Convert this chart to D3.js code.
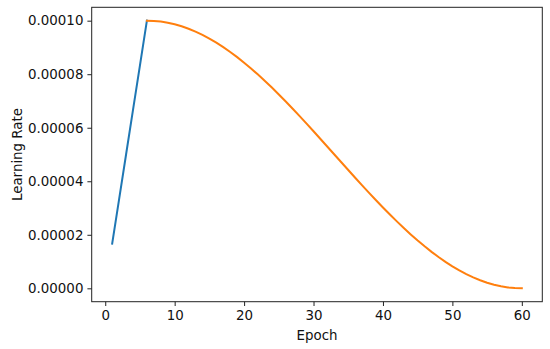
<!DOCTYPE html>
<html>
<head>
<meta charset="utf-8">
<script src="https://cdn.jsdelivr.net/npm/d3@7"></script>
<style>
  body { margin: 0; background: #fff; }
  svg { display: block; font-family: "DejaVu Sans", sans-serif; }
</style>
</head>
<body>
<svg id="chart" width="550" height="349"></svg>
<script>
// Warmup phase (blue)
const warmupEpochs = [1, 2, 3, 4, 5, 6];
const warmupLR = [1.667e-5, 3.333e-5, 5.0e-5, 6.667e-5, 8.333e-5, 1.0e-4];

// Cosine decay phase (orange)
const decayEpochs = [6, 7, 8, 9, 10, 11, 12, 13, 14, 15, 16, 17, 18, 19, 20,
  21, 22, 23, 24, 25, 26, 27, 28, 29, 30, 31, 32, 33, 34, 35, 36, 37, 38, 39, 40,
  41, 42, 43, 44, 45, 46, 47, 48, 49, 50, 51, 52, 53, 54, 55, 56, 57, 58, 59, 60];
const decayLR = [10.0, 9.9915, 9.9662, 9.9240, 9.8652, 9.7899, 9.6985, 9.5911, 9.4682, 9.3301,
  9.1774, 9.0101, 8.8302, 8.6369, 8.4312, 8.2139, 7.9858, 7.7476, 7.5, 7.2440,
  6.9804, 6.7101, 6.4340, 6.1531, 5.8682, 5.5805, 5.2907, 5.0, 4.7093, 4.4195,
  4.1318, 3.8469, 3.5660, 3.2899, 3.0196, 2.7560, 2.5, 2.2524, 2.0142, 1.7861,
  1.5688, 1.3631, 1.1698, 0.9899, 0.8226, 0.6699, 0.5318, 0.4089, 0.3015, 0.2101,
  0.1348, 0.0760, 0.0338, 0.0085, 0.0].map(v => v * 1e-5);

const xTicks = [0, 10, 20, 30, 40, 50, 60];
const yTicks = [0, 0.00002, 0.00004, 0.00006, 0.00008, 0.00010];

const svg = d3.select("#chart");
const L = 91.7, R = 542.3, T = 7.3, B = 301.7;

const x = d3.scaleLinear().domain([-1.95, 62.95]).range([L, R]);
const y = d3.scaleLinear().domain([-0.000005, 0.000105]).range([B, T]);

const fs = 13.4;

// Lines
const line = d3.line().x(d => x(d[0])).y(d => y(d[1]));
svg.append("path")
  .datum(warmupEpochs.map((e, i) => [e, warmupLR[i]]))
  .attr("d", line).attr("fill", "none").attr("stroke", "#1f77b4")
  .attr("stroke-width", 2).attr("stroke-linecap", "square");
svg.append("path")
  .datum(decayEpochs.map((e, i) => [e, decayLR[i]]))
  .attr("d", line).attr("fill", "none").attr("stroke", "#ff7f0e")
  .attr("stroke-width", 2).attr("stroke-linecap", "square");

// Axes
const xAxis = d3.axisBottom(x).tickValues(xTicks).tickSize(4.3).tickPadding(4).tickFormat(d3.format("d"));
const yAxis = d3.axisLeft(y).tickValues(yTicks).tickSize(4.3).tickPadding(4).tickFormat(d3.format(".5f"));

const gx = svg.append("g").attr("transform", `translate(0,${B})`).call(xAxis);
const gy = svg.append("g").attr("transform", `translate(${L},0)`).call(yAxis);
[gx, gy].forEach(g => {
  g.select(".domain").remove();
  g.selectAll(".tick line").attr("stroke", "#222").attr("stroke-width", 1);
  g.selectAll(".tick text").attr("fill", "#111").style("font-size", fs + "px")
    .style("font-family", "DejaVu Sans, sans-serif");
});

// Frame
svg.append("rect").attr("x", L).attr("y", T).attr("width", R - L).attr("height", B - T)
  .attr("fill", "none").attr("stroke", "#222").attr("stroke-width", 1);

// Labels
svg.append("text").attr("x", (L + R) / 2).attr("y", 340.3).attr("text-anchor", "middle")
  .attr("fill", "#111").style("font-size", fs + "px").text("Epoch");
svg.append("text").attr("transform", `translate(22.3,${(T + B) / 2}) rotate(-90)`)
  .attr("text-anchor", "middle").attr("fill", "#111").style("font-size", fs + "px").text("Learning Rate");
</script>
</body>
</html>
